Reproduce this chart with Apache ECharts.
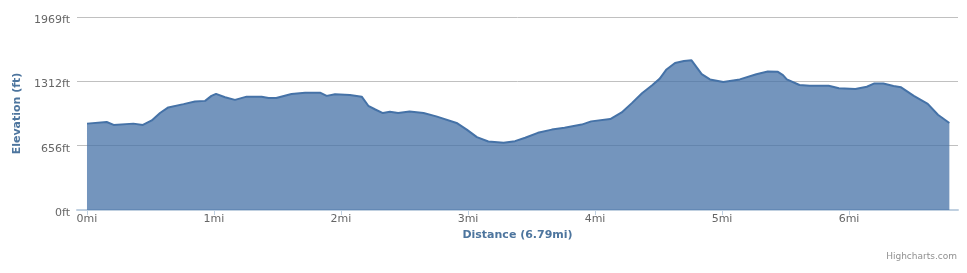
<!DOCTYPE html>
<html>
<head>
<meta charset="utf-8">
<script src="https://cdn.jsdelivr.net/npm/echarts@6/dist/echarts.min.js"></script>
<style>
html,body{margin:0;padding:0;background:#fff;}
#chart{width:967px;height:273px;}
</style>
</head>
<body>
<div id="chart"></div>
<script>
// Distance along route (mi)
const distances = [0, 0.155, 0.21, 0.365, 0.44, 0.51, 0.575, 0.64, 0.76, 0.85, 0.93, 0.98, 1.016, 1.087, 1.165, 1.257, 1.375, 1.43, 1.49, 1.61, 1.717, 1.835, 1.887, 1.953, 2.07, 2.163, 2.215, 2.27, 2.33, 2.385, 2.45, 2.54, 2.65, 2.75, 2.91, 2.99, 3.07, 3.16, 3.28, 3.37, 3.45, 3.55, 3.66, 3.76, 3.895, 3.97, 4.12, 4.21, 4.29, 4.37, 4.45, 4.51, 4.56, 4.63, 4.70, 4.76, 4.84, 4.905, 5.01, 5.14, 5.27, 5.36, 5.44, 5.48, 5.51, 5.61, 5.69, 5.84, 5.92, 6.05, 6.14, 6.20, 6.27, 6.35, 6.41, 6.51, 6.62, 6.70, 6.79];
// Elevation (ft)
const elevations = [881, 898, 868, 881, 868, 914, 989, 1046, 1080, 1106, 1113, 1164, 1184, 1150, 1123, 1156, 1156, 1143, 1143, 1184, 1197, 1197, 1164, 1181, 1174, 1156, 1063, 1025, 989, 1002, 989, 1005, 989, 955, 888, 820, 743, 699, 686, 702, 737, 787, 820, 838, 871, 904, 928, 995, 1090, 1191, 1273, 1340, 1430, 1500, 1520, 1527, 1385, 1332, 1305, 1332, 1385, 1413, 1409, 1376, 1332, 1275, 1268, 1268, 1241, 1234, 1257, 1291, 1291, 1264, 1251, 1164, 1083, 972, 888];
// Tick labels
const xTickValues = [0, 1, 2, 3, 4, 5, 6];
const xTickLabels = ['0mi', '1mi', '2mi', '3mi', '4mi', '5mi', '6mi'];
const yTickLabels = ['0ft', '656ft', '1312ft', '1969ft'];
const xTitle = 'Distance (6.79mi)';
const yTitle = 'Elevation (ft)';

const seriesData = distances.map((d, i) => [d, elevations[i]]);
const FONT = '"DejaVu Sans", Verdana, sans-serif';

const chart = echarts.init(document.getElementById('chart'), null, {renderer: 'canvas'});
chart.setOption({
  animation: false,
  backgroundColor: '#ffffff',
  grid: {left: 77, right: 9, top: 17, height: 193, containLabel: false},
  xAxis: {
    type: 'value',
    min: -0.0787,
    max: 6.858,
    name: xTitle,
    nameLocation: 'middle',
    nameGap: 20,
    nameTextStyle: {color: '#4d759e', fontWeight: 'bold', fontSize: 11, fontFamily: FONT},
    axisLine: {show: true, lineStyle: {color: '#C0D0E0', width: 2}},
    axisTick: {show: true, customValues: xTickValues, length: 5, lineStyle: {color: '#C0D0E0', width: 1}},
    axisLabel: {
      customValues: xTickValues,
      margin: 4,
      color: '#666666',
      fontSize: 11,
      fontFamily: FONT,
      formatter: (v) => xTickLabels[xTickValues.indexOf(Math.round(v))]
    },
    splitLine: {show: false}
  },
  yAxis: {
    type: 'value',
    min: 0,
    max: 1968.5,
    interval: 656.1667,
    name: yTitle,
    nameLocation: 'middle',
    nameGap: 52,
    nameTextStyle: {color: '#4d759e', fontWeight: 'bold', fontSize: 11, fontFamily: FONT},
    axisLine: {show: false},
    axisTick: {show: false},
    axisLabel: {
      margin: 7,
      color: '#666666',
      fontSize: 11,
      fontFamily: FONT,
      verticalAlign: 'top',
      lineHeight: 6,
      formatter: (v) => yTickLabels[Math.round(v / 656.1667)]
    },
    splitLine: {show: true, lineStyle: {color: '#C0C0C0', width: 1}}
  },
  series: [{
    type: 'line',
    data: seriesData,
    showSymbol: false,
    smooth: false,
    lineStyle: {color: '#4572A7', width: 2},
    areaStyle: {color: '#4572A7', opacity: 0.75},
    z: 2
  }],
  graphic: [{
    type: 'text',
    right: 10,
    top: 252,
    style: {text: 'Highcharts.com', fill: '#909090', font: '9px ' + FONT}
  }]
});
</script>
</body>
</html>
